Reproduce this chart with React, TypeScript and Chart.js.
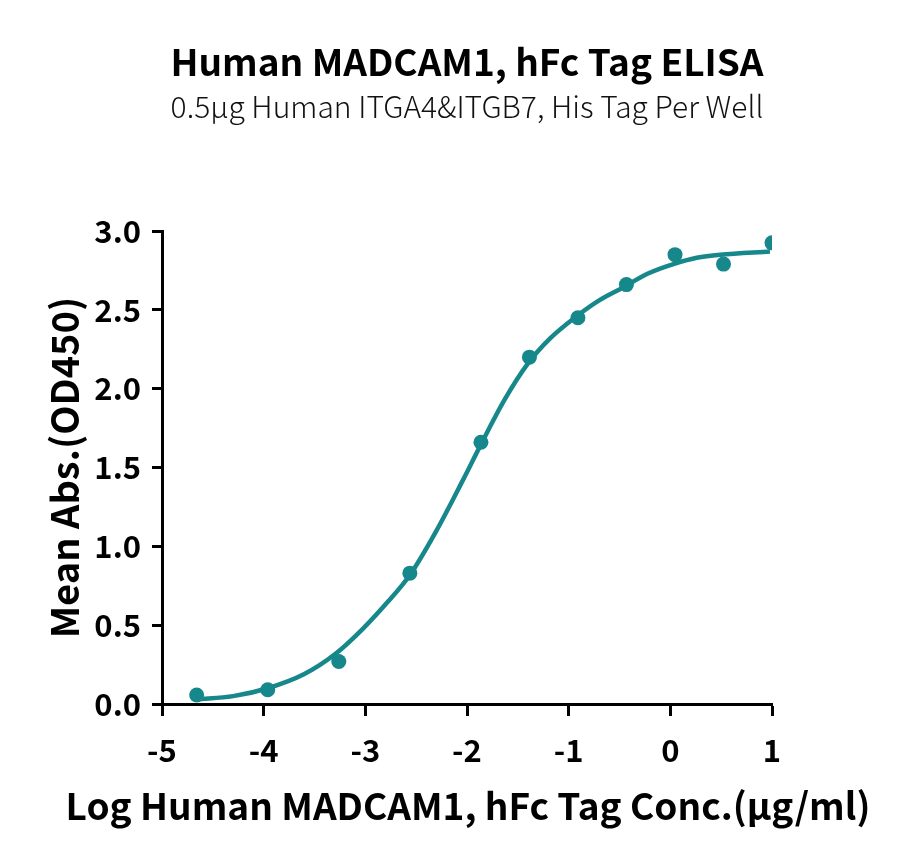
import { useEffect, useRef } from "react"
import { Chart, registerables } from "chart.js"
import type { Plugin } from "chart.js"

Chart.register(...registerables)

// log10 concentration (µg/ml) of each well, and its mean OD450
const logConc = [-4.659, -3.96, -3.261, -2.562, -1.863, -1.386, -0.909, -0.432, 0.046, 0.523, 1.0]
const meanAbs = [0.057, 0.09, 0.27, 0.83, 1.66, 2.2, 2.45, 2.66, 2.85, 2.79, 2.925]

// fitted curve
const fitX = [-4.66, -4.3, -3.96, -3.6, -3.29, -3.02, -2.79, -2.56, -2.3, -2.04, -1.86, -1.63, -1.4, -1.18, -0.92, -0.7, -0.47, -0.22, 0.03, 0.26, 0.49, 0.98]
const fitY = [0.03, 0.05, 0.1, 0.19, 0.32, 0.48, 0.64, 0.82, 1.1, 1.42, 1.65, 1.93, 2.16, 2.32, 2.46, 2.56, 2.64, 2.73, 2.79, 2.83, 2.85, 2.87]

const xTicks = [-5, -4, -3, -2, -1, 0, 1]
const yTicks = [0, 0.5, 1, 1.5, 2, 2.5, 3]

const teal = "rgb(22, 135, 138)"
const FONT = "'Noto Sans CJK SC', 'Noto Sans', sans-serif"
const xTitle = "Log Human MADCAM1, hFc Tag Conc.(µg/ml)"

// x-axis title is wider than the plot, so it is drawn here instead of by the scale
const xTitlePlugin: Plugin = {
  id: "xTitle",
  afterDraw(chart) {
    const { ctx, chartArea } = chart
    ctx.save()
    ctx.fillStyle = "#000"
    ctx.font = `bold 37px ${FONT}`
    ctx.textAlign = "center"
    ctx.textBaseline = "middle"
    ctx.fillText(xTitle, (chartArea.left + chartArea.right) / 2 + 1, 806)
    ctx.restore()
  },
}

export default function App() {
  const chartRef = useRef<HTMLCanvasElement>(null)
  const chartInstance = useRef<Chart | null>(null)

  useEffect(() => {
    document.body.style.margin = "0"
    if (!chartRef.current) return
    if (chartInstance.current) chartInstance.current.destroy()

    const ctx = chartRef.current.getContext("2d")
    if (!ctx) return

    chartInstance.current = new Chart(ctx, {
      type: "scatter",
      data: {
        datasets: [
          {
            label: "data",
            data: logConc.map((x, i) => ({ x, y: meanAbs[i] })),
            backgroundColor: teal,
            borderColor: teal,
            pointRadius: 7.5,
            pointBorderWidth: 0,
            showLine: false,
          },
          {
            label: "fit",
            data: fitX.map((x, i) => ({ x, y: fitY[i] })),
            borderColor: teal,
            borderWidth: 4.5,
            pointRadius: 0,
            showLine: true,
            cubicInterpolationMode: "monotone",
          },
        ],
      },
      options: {
        responsive: false,
        animation: false,
        devicePixelRatio: 1,
        layout: { padding: { top: 0, left: 0, right: 128, bottom: 0 } },
        plugins: {
          legend: { display: false },
          tooltip: { enabled: false },
          title: {
            display: true,
            text: "Human MADCAM1, hFc Tag ELISA",
            fullSize: false,
            color: "#000",
            font: { family: FONT, size: 37, weight: "bold", lineHeight: 1.2 },
            padding: { top: 39.8, bottom: 4.8 },
          },
          subtitle: {
            display: true,
            text: "0.5µg Human ITGA4&ITGB7, His Tag Per Well",
            fullSize: false,
            color: "#111",
            font: { family: FONT, size: 30, weight: "300", lineHeight: 1.2 },
            padding: { top: 0, bottom: 106 },
          },
        },
        scales: {
          x: {
            type: "linear",
            min: -5,
            max: 1,
            afterFit: (scale) => {
              scale.height = 159
            },
            afterBuildTicks: (scale) => {
              scale.ticks = xTicks.map((value) => ({ value }))
            },
            border: { display: true, color: "#000", width: 3 },
            grid: { drawOnChartArea: false, drawTicks: true, tickLength: 12, tickWidth: 3, tickColor: "#000" },
            ticks: {
              color: "#000",
              padding: 15.4,
              font: { family: FONT, size: 31, weight: "bold", lineHeight: 1.2 },
              callback: (v) => String(v),
            },
          },
          y: {
            type: "linear",
            min: 0,
            max: 3,
            afterFit: (scale) => {
              scale.width = 162
            },
            afterBuildTicks: (scale) => {
              scale.ticks = yTicks.map((value) => ({ value }))
            },
            border: { display: true, color: "#000", width: 3 },
            grid: { drawOnChartArea: false, drawTicks: true, tickLength: 10, tickWidth: 3, tickColor: "#000" },
            ticks: {
              color: "#000",
              padding: 11,
              font: { family: FONT, size: 31, weight: "bold", lineHeight: 1.2 },
              callback: (v) => Number(v).toFixed(1),
            },
            title: {
              display: true,
              text: "Mean Abs.(OD450)",
              color: "#000",
              font: { family: FONT, size: 38, weight: "bold", lineHeight: 1.2 },
              padding: { top: 42.2, bottom: 0 },
            },
          },
        },
      },
      plugins: [xTitlePlugin],
    })

    return () => {
      if (chartInstance.current) {
        chartInstance.current.destroy()
        chartInstance.current = null
      }
    }
  }, [])

  return (
    <div style={{ width: 900, height: 863, background: "#fff" }}>
      <canvas ref={chartRef} width={900} height={863} />
    </div>
  )
}
